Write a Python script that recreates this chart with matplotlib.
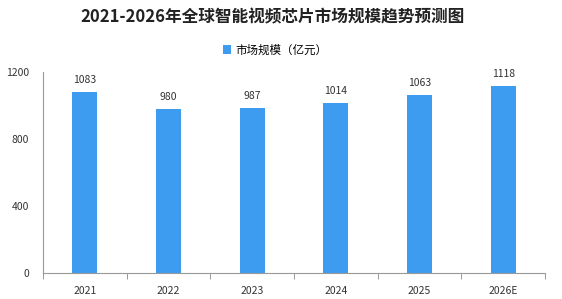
import numpy as np
import matplotlib.pyplot as plt

plt.rcParams['font.family'] = ['Noto Sans CJK SC', 'DejaVu Sans']

years = ['2021', '2022', '2023', '2024', '2025', '2026E']
values = [1083, 980, 987, 1014, 1063, 1118]

fig = plt.figure(figsize=(5.62, 2.99), dpi=100)
ax = fig.add_axes([43 / 562, 26 / 299, 502 / 562, 201 / 299])

x = np.arange(len(years))
bars = ax.bar(x, values, width=0.3, color='#3d9bf0', label='市场规模（亿元）')
for xi, v in zip(x, values):
    ax.text(xi, v + 40, str(v), ha='center', va='bottom', fontsize=7.5, color='#333333')

ax.set_xlim(-0.5, len(years) - 0.5)
ax.set_ylim(0, 1200)
ax.set_yticks([0, 400, 800, 1200])
ax.set_xticks(x)
ax.set_xticklabels(years)
ax.set_xticks(np.arange(-0.5, len(years)), minor=True)
ax.tick_params(axis='x', which='major', length=0, labelsize=7.5, colors='#333333', pad=9)
ax.tick_params(axis='x', which='minor', length=4, color='#888888', direction='out')
ax.tick_params(axis='y', length=0, labelsize=7.5, colors='#333333', pad=10)

ax.spines['top'].set_color('none')
ax.spines['right'].set_color('none')
ax.spines['left'].set_color('#999999')
ax.spines['bottom'].set_color('#999999')

fig.text(0.485, 1 - 17 / 299, '2021-2026年全球智能视频芯片市场规模趋势预测图', ha='center', va='center',
         fontsize=12, fontweight='bold', color='#222222')
fig.legend(handles=[bars], loc='center', bbox_to_anchor=(0.49, 1 - 50 / 299), frameon=False,
           fontsize=8.3, handlelength=0.7, handleheight=0.7, handletextpad=0.4)

fig.savefig('out.png', dpi=100, facecolor='white')
